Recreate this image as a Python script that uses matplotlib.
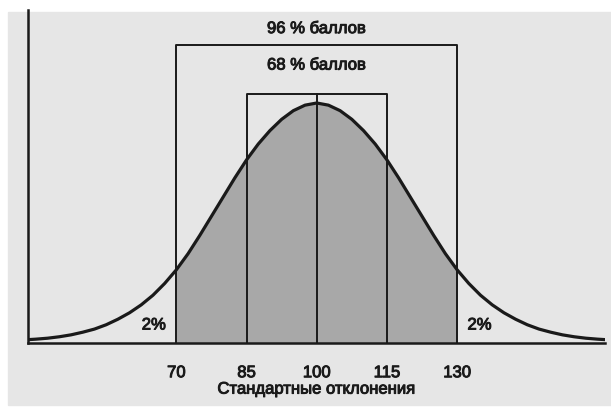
import matplotlib
matplotlib.use('Agg')
import matplotlib.pyplot as plt
import matplotlib.patheffects as pe
from matplotlib.patches import Rectangle

# Кривая распределения IQ: значения шкалы и высота кривой (в % от пика)
scores = [37.5, 40, 42.5, 45, 47.5, 50, 52.5, 55, 57.5, 60, 62.5, 65, 67.5,
          70, 72.5, 75, 77.5, 80, 82.5, 85, 87.5, 90, 92.5, 95, 97.5, 100,
          102.5, 105, 107.5, 110, 112.5, 115, 117.5, 120, 122.5, 125, 127.5,
          130, 132.5, 135, 137.5, 140, 142.5, 145, 147.5, 150, 152.5, 155,
          157.5, 160, 162.5]
height = [1.3, 1.6, 2.0, 2.6, 3.4, 4.5, 5.8, 7.6, 9.9, 12.6, 15.9, 19.9, 24.8,
          30.5, 37.2, 44.8, 52.8, 60.8, 68.8, 76.3, 82.9, 88.5, 93.2, 96.8, 99.1, 100,
          99.1, 96.8, 93.2, 88.5, 82.9, 76.3, 68.8, 60.8, 52.8, 44.8, 37.2,
          30.5, 24.8, 19.9, 15.9, 12.6, 9.9, 7.6, 5.8, 4.5, 3.4, 2.6,
          2.0, 1.6, 1.3]

ticks = [70, 85, 100, 115, 130]
box96 = (70, 130)
box68 = (85, 115)
box96_top = 124
box68_top = 103.7
title96 = '96 % баллов'
title68 = '68 % баллов'
tail_label = '2%'
xlabel = 'Стандартные отклонения'

font = ['Liberation Sans Narrow', 'Liberation Sans', 'DejaVu Sans']
plt.rcParams['font.family'] = font

bg = '#e6e6e6'
ink = '#1a1a1a'
# чуть утолщённый обычный шрифт
heavy = [pe.withStroke(linewidth=0.7, foreground=ink)]
txt = dict(fontsize=12, color=ink, path_effects=heavy)

fig = plt.figure(figsize=(6.11, 4.18), dpi=100)
fig.patch.set_facecolor('white')
fig.patches.append(Rectangle((8 / 611, 13 / 418), 603 / 611, 393 / 418,
                             transform=fig.transFigure, color=bg, zorder=-5))

ax = fig.add_axes([28 / 611, 75 / 418, 577 / 611, 333 / 418])
ax.set_facecolor('none')
ax.set_xlim(38.3, 161.6)
ax.set_ylim(0, 138.75)

# заливка под кривой в пределах 70–130
ax.fill_between(scores, height, where=[box96[0] <= s <= box96[1] for s in scores],
                color='#a8a8a8', lw=0, zorder=1)

# рамки 96 % и 68 %
ax.plot([box96[0], box96[0], box96[1], box96[1]], [0, box96_top, box96_top, 0],
        color=ink, lw=1.4, zorder=2)
ax.plot([box68[0], box68[0], box68[1], box68[1]], [0, box68_top, box68_top, 0],
        color=ink, lw=1.4, zorder=2)
ax.plot([100, 100], [0, box68_top], color=ink, lw=1.4, zorder=2)

ax.plot(scores, height, color=ink, lw=2.3, zorder=3,
        solid_joinstyle='round', solid_capstyle='round')

ax.text(100, 131, title96, ha='center', va='center', **txt)
ax.text(100, 115.8, title68, ha='center', va='center', **txt)
ax.text(65.2, 7.5, tail_label, ha='center', va='center', **txt)
ax.text(134.8, 7.5, tail_label, ha='center', va='center', **txt)

ax.spines['top'].set_visible(False)
ax.spines['right'].set_visible(False)
ax.spines['left'].set_linewidth(1.8)
ax.spines['bottom'].set_linewidth(1.8)
ax.spines['left'].set_color(ink)
ax.spines['bottom'].set_color(ink)

ax.set_yticks([])
ax.set_xticks(ticks)
ax.set_xticklabels([str(t) for t in ticks], **txt)
ax.tick_params(axis='x', length=0, pad=16)
ax.set_xlabel(xlabel, labelpad=1, **txt)

fig.savefig('out.png', dpi=100, facecolor=fig.get_facecolor())
